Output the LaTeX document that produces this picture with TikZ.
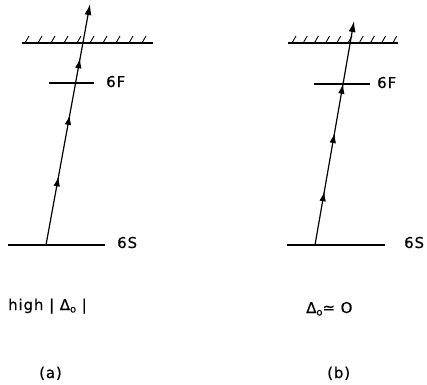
\documentclass[tikz,border=0pt]{standalone}
\usepackage{fontspec}
\setmainfont{DejaVu Sans}[LetterSpace=6,FakeBold=0.6]
\usetikzlibrary{arrows.meta,decorations.markings}
\tikzset{
  level/.style={line width=1.7bp},
  hatch/.style={line width=0.9bp},
  ray/.style={line width=1.2bp,-{Latex[length=11bp,width=7bp]}},
  lbl/.style={inner sep=0pt,anchor=base west,font=\fontsize{15}{18}\selectfont},
  mid/.style={postaction={decorate,decoration={markings,
      mark=at position #1 with {\arrow{Latex[length=10bp,width=6.5bp]}}}}}
}
\newcommand{\subo}{\raisebox{-2.5bp}{\fontsize{10}{12}\selectfont o}}
\begin{document}
\begin{tikzpicture}[x=1bp,y=-1bp]
\useasboundingbox (0,0) rectangle (427,385);
% ---------- panel (a) ----------
\coordinate (aM1) at (22,43);  \coordinate (aM2) at (153,43);
\coordinate (aF1) at (49,83);  \coordinate (aF2) at (94,83);
\coordinate (aS1) at (8,245);  \coordinate (aS2) at (105,245);
\coordinate (aA) at (46,245);  \coordinate (aB) at (90,4);
\draw[level] (aM1) -- (aM2);
\foreach \k in {0,...,9} \draw[hatch] (25+13*\k,43) -- ++(4,-7);
\draw[level] (aF1) -- (aF2);
\draw[level] (aS1) -- (aS2);
\draw[ray,mid=0.285,mid=0.54,mid=0.775] (aA) -- (aB);
\node[lbl] (aFl) at (106,87) {6F};
\node[lbl] (aSl) at (117,248) {6S};
\node[lbl] (aT) at (8,310) {high | Δ\subo\ |};
\node[lbl] (aC) at (39,378) {(a)};
% ---------- panel (b) ----------
\coordinate (bM1) at (288,43); \coordinate (bM2) at (398,43);
\coordinate (bF1) at (314,84); \coordinate (bF2) at (370,84);
\coordinate (bS1) at (287,245); \coordinate (bS2) at (385,245);
\coordinate (bA) at (315,245); \coordinate (bB) at (354,21);
\draw[level] (bM1) -- (bM2);
\foreach \k in {0,...,9} \draw[hatch] (292+11.2*\k,43) -- ++(4,-7);
\draw[level] (bF1) -- (bF2);
\draw[level] (bS1) -- (bS2);
\draw[ray,mid=0.24,mid=0.50,mid=0.72] (bA) -- (bB);
\node[lbl] (bFl) at (377,88) {6F};
\node[lbl] (bSl) at (404,248) {6S};
\node[lbl] (bT) at (306,313) {Δ\subo≃ O};
\node[lbl] (bC) at (327,378) {(b)};
\end{tikzpicture}
\end{document}
